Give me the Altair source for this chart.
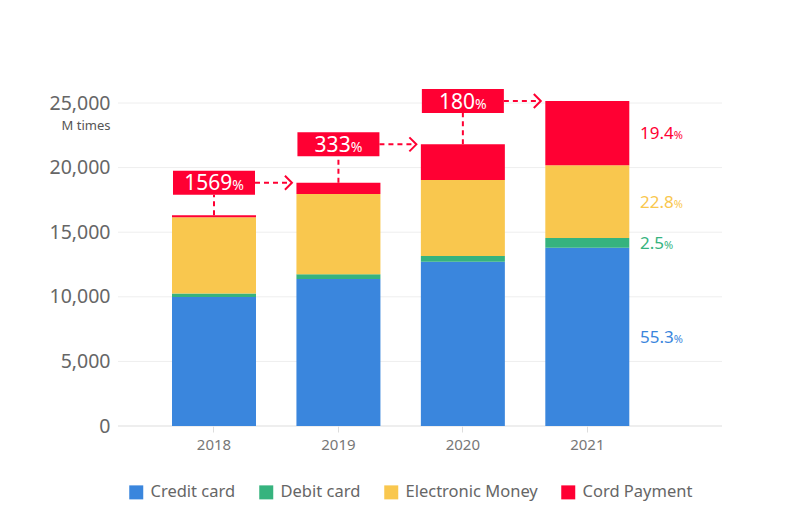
import altair as alt
import pandas as pd

years = ["2018", "2019", "2020", "2021"]
series = ["Credit card", "Debit card", "Electronic Money", "Cord Payment"]
colors = ["#3a86dd", "#36b37e", "#f9c74e", "#ff0033"]
credit = [9980, 11380, 12720, 13800]
debit = [280, 360, 440, 750]
electronic = [5890, 6220, 5880, 5630]
cord = [170, 870, 2760, 4970]
growth = ["1569", "333", "180"]          # growth vs previous year (%)
share_2021 = ["55.3", "2.5", "22.8", "19.4"]
y_ticks = [0, 5000, 10000, 15000, 20000, 25000]

RED = "#ff0033"
FONT = "Noto Sans"
W, H = 604, 323

vals = [credit, debit, electronic, cord]
rows = []
for si, s in enumerate(series):
    for yi, y in enumerate(years):
        rows.append({"year": y, "series": s, "value": vals[si][yi], "ord": si})
df = pd.DataFrame(rows)

totals = [sum(v[i] for v in vals) for i in range(len(years))]
ann = pd.DataFrame({
    "year": years[:-1],
    "next": years[1:],
    "top": totals[:-1],
    "next_top": totals[1:],
    "label": growth,
})

last = len(years) - 1
cum = 0
lab_rows = []
for si, s in enumerate(series):
    v = vals[si][last]
    lab_rows.append({"year": years[last], "series": s, "share": share_2021[si],
                     "mid": cum + v / 2})
    cum += v
labs = pd.DataFrame(lab_rows)

grid_df = pd.DataFrame({"v": y_ticks})

xscale = alt.Scale(domain=years, range=[54, 511.3], paddingInner=0.325, paddingOuter=0)
yscale = alt.Scale(domain=[0, 25000], nice=False)

yaxis = alt.Axis(values=y_ticks, format=",d", labelFontSize=19.5, labelColor="#666666",
                 domain=False, ticks=False, grid=False, labelPadding=8,
                 title="M times", titleAngle=0, titleAlign="right",
                 titleBaseline="middle", titleX=-8, titleY=22, titleFontSize=13,
                 titleFontWeight="normal", titleColor="#555555")

grid = alt.Chart(grid_df).mark_rule(strokeWidth=1).encode(
    y=alt.Y("v:Q", scale=yscale, axis=yaxis),
    x=alt.value(0), x2=alt.value(W),
    color=alt.condition(alt.datum.v == 0, alt.value("#dddddd"), alt.value("#eeeeee")),
)

X = alt.X("year:N", scale=xscale,
          axis=alt.Axis(title=None, labelAngle=0, labelFontSize=15, labelColor="#777777",
                        domain=False, tickColor="#dddddd", tickSize=6,
                        labelPadding=5, grid=False))

bars = alt.Chart(df).mark_bar().encode(
    x=X,
    y=alt.Y("value:Q", stack="zero", scale=yscale, axis=yaxis),
    color=alt.Color("series:N", sort=series,
                    scale=alt.Scale(domain=series, range=colors),
                    legend=alt.Legend(title=None, orient="none", legendX=10, legendY=381,
                                      direction="horizontal", symbolType="square",
                                      symbolSize=196, symbolStrokeWidth=0,
                                      labelFontSize=16.5, labelColor="#666666",
                                      columnPadding=22, labelOffset=6, padding=0)),
    order=alt.Order("ord:Q"),
)

base = alt.Chart(ann)
vrule = base.mark_rule(color=RED, strokeWidth=2, strokeDash=[5, 4], y2Offset=12).encode(
    x="year:N", y="top:Q", y2="next_top:Q")
hrule = base.mark_rule(color=RED, strokeWidth=2, strokeDash=[5, 4], xOffset=41,
                       x2Offset=-47).encode(
    x="year:N", x2="next:N", y="next_top:Q")
head = base.mark_point(shape="M-1,-1L0,0L-1,1", size=196, filled=False, strokeWidth=2,
                       color=RED, opacity=1, xOffset=-46.5).encode(
    x="next:N", y="next_top:Q")
box = base.mark_tick(size=82, thickness=24, color=RED, opacity=1).encode(
    x="year:N", y="next_top:Q")

layers = [grid, bars, vrule, hrule, head, box]

for lab in growth:
    wnum = len(lab) * 0.572 * 21
    split = (wnum - 11.6) / 2
    sub = base.transform_filter(alt.datum.label == lab)
    layers.append(sub.mark_text(align="right", baseline="alphabetic", dx=split, dy=7.5,
                                fontSize=21, color="white", font=FONT).encode(
        x="year:N", y="next_top:Q", text="label:N"))
    layers.append(sub.mark_text(align="left", baseline="alphabetic", dx=split, dy=7.5,
                                fontSize=14, color="white", font=FONT).encode(
        x="year:N", y="next_top:Q", text=alt.value("%")))

lbase = alt.Chart(labs)
for si, s in enumerate(series):
    sh = share_2021[si]
    wnum = sum(0.268 if c == "." else 0.572 for c in sh) * 17
    sub = lbase.transform_filter(alt.datum.series == s)
    layers.append(sub.mark_text(align="left", baseline="alphabetic", dx=52.7, dy=6,
                                fontSize=17, color=colors[si], font=FONT).encode(
        x="year:N", y="mid:Q", text="share:N"))
    layers.append(sub.mark_text(align="left", baseline="alphabetic", dx=52.7 + wnum, dy=6,
                                fontSize=11, color=colors[si], font=FONT).encode(
        x="year:N", y="mid:Q", text=alt.value("%")))

chart = alt.layer(*layers).properties(
    width=W, height=H,
    autosize=alt.AutoSizeParams(type="none"),
    padding={"left": 110, "top": 95, "right": 70, "bottom": 78},
).configure(font=FONT).configure_view(stroke=None)

chart.save("out.html", embed_options={"renderer": "svg", "actions": False})
